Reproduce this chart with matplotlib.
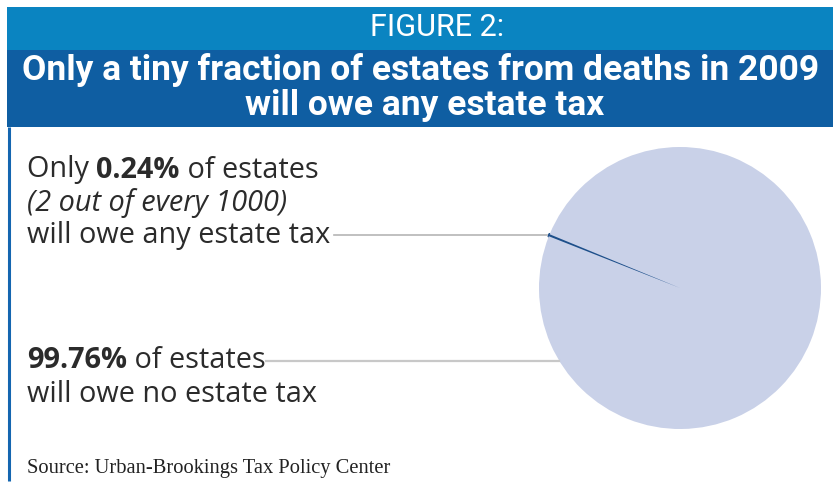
import matplotlib.pyplot as plt
import numpy as np

# estate shares, percent
labels = ['owe estate tax', 'owe no estate tax']
shares = [0.24, 99.76]
slice_colors = ['#1D4F8A', '#C9D1E8']

header = 'FIGURE 2:'
title_lines = ['Only a tiny fraction of estates from deaths in 2009',
               'will owe any estate tax']
source = 'Source: Urban-Brookings Tax Policy Center'

W, H = 833, 487
SANS = 'Open Sans'


def runs(ax, x, y, parts, size=20.8):
    # draw a line made of (text, weight, style) pieces one after another
    r = ax.figure.canvas.get_renderer()
    end = x
    for s, weight, style in parts:
        t = ax.text(end, y, s, fontsize=size, family=SANS, fontweight=weight,
                    fontstyle=style, color='#2B2B2B', va='center', ha='left')
        bb = t.get_window_extent(renderer=r)
        end = end + bb.width
    return end


def main():
    fig = plt.figure(figsize=(W / 100, H / 100), dpi=100)
    ax = fig.add_axes([0, 0, 1, 1])
    ax.set_xlim(0, W)
    ax.set_ylim(0, H)
    ax.axis('off')

    # header bands
    ax.add_patch(plt.Rectangle((7, H - 50), W, 43, color='#0A84C1', lw=0))
    ax.add_patch(plt.Rectangle((7, H - 127), W, 77, color='#0F5EA2', lw=0))
    ax.plot([9.5, 9.5], [H - 127, H - 481], color='#1466B0', lw=2.2,
            solid_capstyle='butt')
    ax.text(437, H - 28, header, color='white', fontsize=22, family='Roboto',
            ha='center', va='center')
    ax.text(421, H - 70, title_lines[0], color='white', fontsize=25.5,
            family='Roboto', fontweight='bold', ha='center', va='center')
    ax.text(425, H - 105, title_lines[1], color='white', fontsize=25.5,
            family='Roboto', fontweight='bold', ha='center', va='center')

    # pie
    cx, cy, rad = 680, H - 288, 141
    start = 157.6
    wedges, _ = ax.pie(shares, colors=slice_colors, startangle=start,
                       center=(cx, cy), radius=rad, frame=True,
                       wedgeprops=dict(linewidth=0))
    wedges[0].set_edgecolor(slice_colors[0])
    wedges[0].set_linewidth(2.0)
    wedges[0].set_joinstyle('round')
    ax.set_xlim(0, W)
    ax.set_ylim(0, H)
    ax.set_aspect('auto')
    ax.axis('off')

    # leader lines
    ang = np.radians(start + shares[0] / 100 * 360 / 2)
    ey = cy + rad * np.sin(ang)
    ex = cx + rad * np.cos(ang)
    y2 = H - 361
    ex2 = cx - np.sqrt(rad ** 2 - (y2 - cy) ** 2)

    runs(ax, 27, H - 170, [('Only ', 'normal', 'normal'),
                           ('0.24%', 'bold', 'normal'),
                           (' of estates', 'normal', 'normal')])
    runs(ax, 27, H - 203, [('(2 out of every 1000)', 'normal', 'italic')])
    x1 = runs(ax, 27, ey, [('will owe any estate tax', 'normal', 'normal')])
    ax.plot([x1 + 4, ex - 2], [ey, ey], color='#B5B5B5', lw=1.2)

    x2 = runs(ax, 27, y2, [('99.76%', 'bold', 'normal'),
                           (' of estates', 'normal', 'normal')])
    runs(ax, 27, H - 394, [('will owe no estate tax', 'normal', 'normal')])
    ax.plot([x2, ex2], [y2, y2], color='#C8C8C8', lw=1.6)

    ax.text(27, H - 469, source, fontsize=14.8, family='Liberation Serif',
            color='#222222', ha='left', va='center')

    fig.savefig('out.png', dpi=100)


if __name__ == '__main__':
    main()
